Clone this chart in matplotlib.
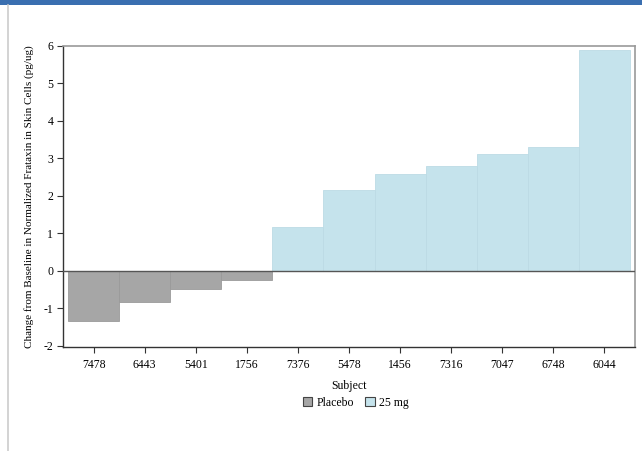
import matplotlib.pyplot as plt
from matplotlib.patches import Patch
from matplotlib.lines import Line2D

subjects = ['7478', '6443', '5401', '1756', '7376', '5478', '1456', '7316', '7047', '6748', '6044']
change = [-1.33, -0.83, -0.49, -0.25, 1.17, 2.16, 2.58, 2.80, 3.12, 3.31, 5.90]
groups = ['Placebo', 'Placebo', 'Placebo', 'Placebo',
          '25 mg', '25 mg', '25 mg', '25 mg', '25 mg', '25 mg', '25 mg']
group_names = ['Placebo', '25 mg']
group_colors = {'Placebo': '#a6a6a6', '25 mg': '#c5e3ec'}
edge_colors = {'Placebo': '#9a9a9a', '25 mg': '#bcdbe5'}

plt.rcParams['font.family'] = ['Liberation Serif', 'DejaVu Serif']
plt.rcParams['axes.unicode_minus'] = False

fig = plt.figure(figsize=(6.42, 4.51), dpi=100)

# blue band at top and gray frame line at left
fig.add_artist(plt.Rectangle((0, 1 - 5 / 451), 1, 5 / 451, transform=fig.transFigure,
                             color='#3a6fb0', lw=0))
fig.add_artist(Line2D([8 / 642, 8 / 642], [0, 1 - 5 / 451], transform=fig.transFigure,
                      color='#cccccc', lw=1.2))

ax = fig.add_axes([63 / 642, 1 - 347 / 451, (635 - 63) / 642, (347 - 46) / 451])

x = list(range(len(subjects)))
ax.bar(x, change, width=1.0,
       color=[group_colors[g] for g in groups],
       edgecolor=[edge_colors[g] for g in groups], linewidth=0.6, zorder=2)
ax.axhline(0, color='#555555', lw=1.0, zorder=3)

ax.set_xlim(-0.6, 10.6)
ax.set_ylim(-2.03, 6.0)
ax.set_yticks(range(-2, 7))
ax.set_xticks(x)
ax.set_xticklabels(subjects)
ax.tick_params(axis='both', labelsize=8.5, length=4, width=0.8, color='#333333', pad=3)
ax.tick_params(axis='x', pad=5)

for side in ['top', 'right']:
    ax.spines[side].set_color('#999999')
    ax.spines[side].set_linewidth(1.2)
for side in ['left', 'bottom']:
    ax.spines[side].set_color('#333333')
    ax.spines[side].set_linewidth(1.0)

ax.set_xlabel('Subject', fontsize=8.5, labelpad=6)
ax.set_ylabel('Change from Baseline in Normalized Frataxin in Skin Cells (pg/ug)', fontsize=8, labelpad=7)

handles = [Patch(facecolor=group_colors[g], edgecolor='#444444', linewidth=0.8, label=g) for g in group_names]
fig.legend(handles=handles, loc='center', bbox_to_anchor=(356 / 642, 1 - 403 / 451), ncol=2,
           frameon=False, fontsize=8.5, handlelength=0.8, handleheight=0.8,
           handletextpad=0.4, columnspacing=0.9)

fig.savefig('out.png', dpi=100)
